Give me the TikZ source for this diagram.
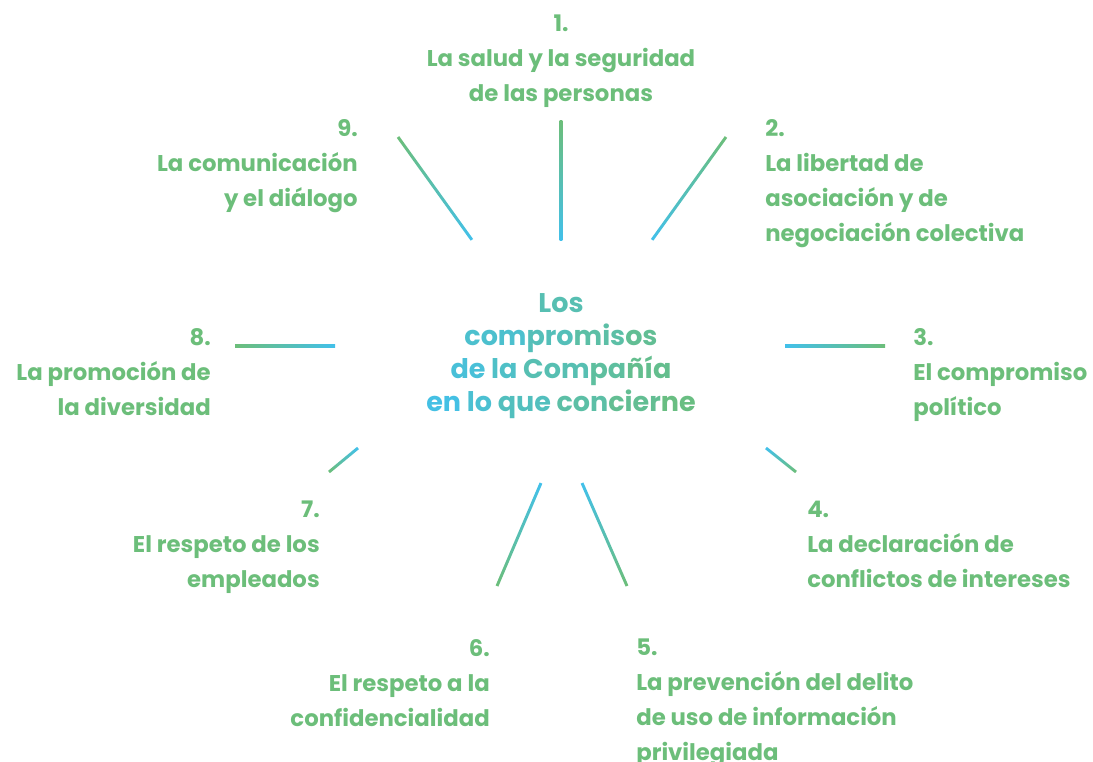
\documentclass[tikz,border=0pt]{standalone}
\usepackage{fontspec}
\setmainfont{Poppins}
\usetikzlibrary{calc}

\definecolor{leafgreen}{RGB}{108,190,122}
\definecolor{skyblue}{RGB}{66,192,234}

% spoke from outer end (green) to inner end (blue)
\newcommand{\spoke}[2]{%
  \pgfpointanchor{#1}{center}\pgfgetlastxy{\ax}{\ay}%
  \pgfpointanchor{#2}{center}\pgfgetlastxy{\bx}{\by}%
  \pgfmathsetmacro{\ang}{atan2(\by-\ay,\bx-\ax)}%
  \pgfmathsetmacro{\len}{veclen(\bx-\ax,\by-\ay)}%
  \begin{scope}[transform canvas={shift={(\ax,\ay)}, rotate=\ang}]
    \shade[spokeline] (0pt,-1.05pt) rectangle (\len pt,1.05pt);
  \end{scope}}
\newcommand{\gc}[2]{\textcolor{leafgreen!#1!skyblue}{#2}}

\begin{document}
\begin{tikzpicture}[
    x=0.025cm, y=-0.025cm,
    lbl/.style={text=leafgreen, inner sep=0pt, font=\bfseries\fontsize{16.2}{24.9}\selectfont},
    lblL/.style={lbl, align=left, anchor=north west},
    lblR/.style={lbl, align=right, anchor=north east},
    lblC/.style={lbl, align=center, anchor=north},
    ctrtext/.style={inner sep=0pt, align=center, anchor=north, font=\bfseries\fontsize{19.2}{23.5}\selectfont},
    spokeline/.style={left color=leafgreen, right color=skyblue}
]
\useasboundingbox (0,0) rectangle (1093,762);

% Centre
\node (ctr) [ctrtext] at (561,293) {\gc{50}{Los}\\
  \gc{25}{com}\gc{44}{pro}\gc{61}{mis}\gc{77}{os}\\
  \gc{16}{de} \gc{31}{la} \gc{50}{Com}\gc{67}{pa}\gc{82}{ñía}\\
  \gc{5}{en} \gc{21}{lo} \gc{39}{que} \gc{61}{con}\gc{78}{cier}\gc{93}{ne}};

% Labels
\node (l1) [lblC] at (561,15) {1.\\La salud y la seguridad\\de las personas};
\node (l2) [lblL] at (765,119) {2.\\La libertad de\\asociación y de\\negociación colectiva};
\node (l3) [lblL] at (913,328) {3.\\El compromiso\\político};
\node (l4) [lblL] at (807,501) {4.\\La declaración de\\conflictos de intereses};
\node (l5) [lblL] at (636,639) {5.\\La prevención del delito\\de uso de información\\privilegiada};
\node (l6) [lblR] at (490,639) {6.\\El respeto a la\\confidencialidad};
\node (l7) [lblR] at (320,501) {7.\\El respeto de los\\empleados};
\node (l8) [lblR] at (211,328) {8.\\La promoción de\\la diversidad};
\node (l9) [lblR] at (358,119) {9.\\La comunicación\\y el diálogo};

% Spoke ends
\coordinate (s1o) at (561,121); \coordinate (s1i) at (561,240);
\coordinate (s2o) at (726,137); \coordinate (s2i) at (652,240);
\coordinate (s3o) at (885,346); \coordinate (s3i) at (785,346);
\coordinate (s4o) at (796,472); \coordinate (s4i) at (766,448);
\coordinate (s5o) at (627,586); \coordinate (s5i) at (582,483);
\coordinate (s6o) at (497,586); \coordinate (s6i) at (541,483);
\coordinate (s7o) at (329,472); \coordinate (s7i) at (358,448);
\coordinate (s8o) at (235,346); \coordinate (s8i) at (335,346);
\coordinate (s9o) at (398,137); \coordinate (s9i) at (472,240);

% Spokes
\foreach \n in {1,...,9}{\spoke{s\n o}{s\n i}}

\end{tikzpicture}
\end{document}
